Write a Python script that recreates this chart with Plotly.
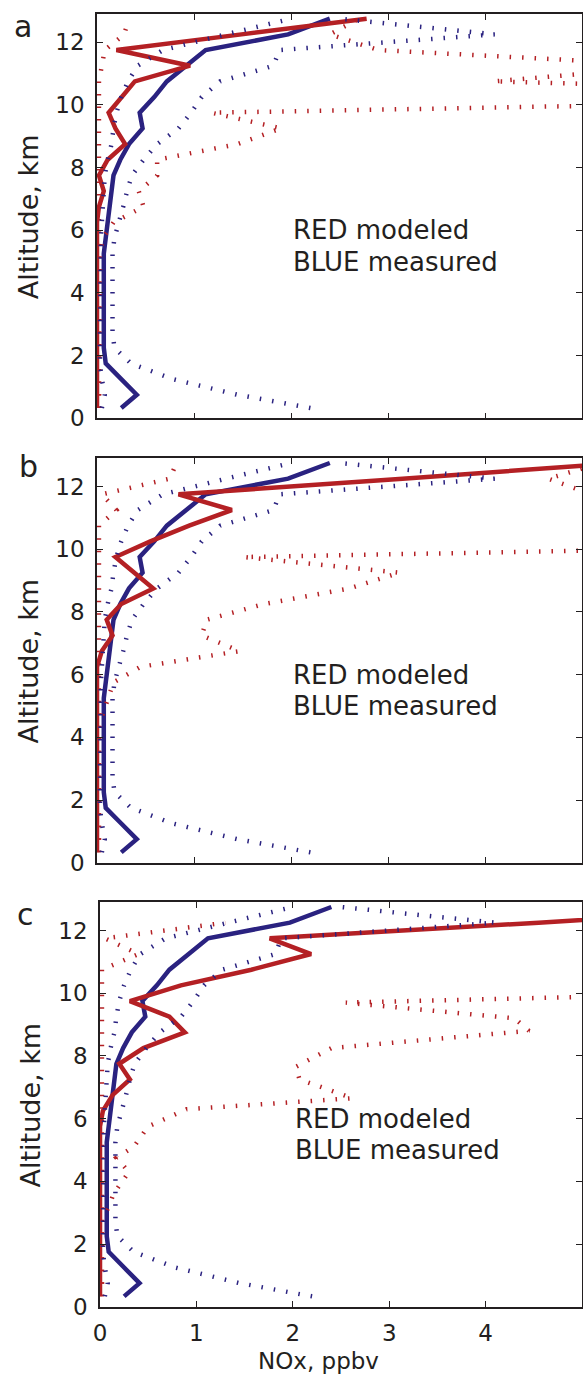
import plotly.graph_objects as go

# ---------------- data (NOx, ppbv vs altitude, km) ----------------
ALT = [0.33, 0.75, 1.25, 1.75, 2.25, 2.75, 3.25, 3.75, 4.25, 4.75, 5.25, 5.75, 6.25,
       6.75, 7.25, 7.75, 8.25, 8.75, 9.25, 9.75, 10.25, 10.75, 11.25, 11.75, 12.25, 12.75]

# measured (same in all panels)
blue_mean = [0.25, 0.41, 0.25, 0.09, 0.07, 0.07, 0.07, 0.07, 0.07, 0.07, 0.07, 0.09, 0.11,
             0.13, 0.15, 0.17, 0.24, 0.33, 0.47, 0.44, 0.59, 0.72, 0.92, 1.12, 1.97, 2.40]
blue_lo = [0.05, 0.08, 0.05, 0.03, 0.03, 0.03, 0.03, 0.03, 0.03, 0.03, 0.03, 0.04, 0.05,
           0.06, 0.07, 0.08, 0.11, 0.15, 0.17, 0.20, 0.25, 0.32, 0.42, 0.68, 1.33, 2.00]
blue_hi = [2.20, 1.45, 0.78, 0.35, 0.18, 0.16, 0.16, 0.16, 0.16, 0.16, 0.16, 0.18, 0.23,
           0.27, 0.31, 0.36, 0.48, 0.62, 0.84, 0.97, 1.08, 1.27, 1.82, 1.88, 4.10, 2.50]

# modeled, panel a
red_mean_a = [0.0, 0.0, 0.0, 0.0, 0.0, 0.0, 0.0, 0.0, 0.0, 0.0, 0.0, 0.0, 0.0,
              0.02, 0.07, 0.02, 0.11, 0.29, 0.19, 0.12, 0.25, 0.39, 0.96, 0.20, 1.49, 2.78]
red_lo_a = [0.02, 0.02, 0.02, 0.02, 0.02, 0.02, 0.02, 0.02, 0.02, 0.02, 0.02, 0.02, 0.02,
            0.02, 0.02, 0.02, 0.02, 0.02, 0.02, 0.02, 0.02, 0.02, 0.05, 0.08, 0.28, 0.33]
red_hi_a = [0.02, 0.02, 0.02, 0.02, 0.02, 0.02, 0.02, 0.02, 0.02, 0.02, 0.03, 0.06, 0.17,
            0.48, 0.43, 0.62, 0.62, 1.45, 1.90, 1.18, 10.0, 4.09, 6.00, 2.90, 2.40, 2.70]

# modeled, panel b
red_mean_b = [0.0, 0.0, 0.0, 0.0, 0.0, 0.0, 0.0, 0.0, 0.0, 0.0, 0.0, 0.0, 0.0,
              0.05, 0.16, 0.10, 0.25, 0.58, 0.39, 0.19, 0.55, 0.95, 1.39, 0.84, 3.15, 5.40]
red_lo_b = [0.02, 0.02, 0.02, 0.02, 0.02, 0.02, 0.02, 0.02, 0.02, 0.02, 0.02, 0.02, 0.02,
            0.02, 0.02, 0.02, 0.02, 0.02, 0.02, 0.02, 0.02, 0.02, 0.20, 0.05, 0.75, 0.82]
red_hi_b = [0.02, 0.02, 0.02, 0.02, 0.02, 0.02, 0.02, 0.02, 0.02, 0.06, 0.12, 0.17, 0.45,
            1.47, 1.08, 1.13, 1.72, 2.60, 3.12, 1.51, 10.2, 9.0, 8.0, 5.10, 4.65, 5.20]

# modeled, panel c
red_mean_c = [0.0, 0.0, 0.0, 0.0, 0.0, 0.0, 0.0, 0.0, 0.0, 0.0, 0.0, 0.0, 0.03,
              0.13, 0.31, 0.20, 0.45, 0.88, 0.72, 0.31, 0.84, 1.57, 2.19, 1.76, 4.55, 7.30]
red_lo_c = [0.02, 0.02, 0.02, 0.02, 0.02, 0.02, 0.02, 0.02, 0.02, 0.02, 0.02, 0.02, 0.02,
            0.02, 0.02, 0.02, 0.02, 0.02, 0.02, 0.02, 0.02, 0.02, 0.40, 0.05, 1.30, None]
alt_hi_c = [0.33, 2.75, 3.25, 3.6, 4.3, 4.75, 5.1, 5.75, 6.3, 6.65, 7.25, 7.65, 8.25,
            8.8, 9.2, 9.7, 10.25]
red_hi_c = [0.02, 0.02, 0.10, 0.14, 0.30, 0.17, 0.35, 0.50, 0.90, 2.62, 2.07, 2.03, 2.40,
            4.45, 4.30, 2.55, 10.0]

panel_letters = ["a", "b", "c"]
x_ticks = [0, 1, 2, 3, 4]
y_ticks = [0, 2, 4, 6, 8, 10, 12]
note_lines = ["RED modeled", "BLUE measured"]

# ---------------- style ----------------
W, H = 583, 1376
BLUE = "rgb(42,34,128)"
RED = "rgb(180,32,36)"
INK = "#231f20"
FONT = "DejaVu Sans"
DOT = "1.5px,11px"


def fx(p):
    return p / W


def fy(p):
    return 1 - p / H


# panel pixel boxes: left, right, top, bottom
boxes = [(97, 582, 14, 418.3), (97, 582, 458.3, 862.7), (100, 582, 902.3, 1306.7)]

panels = [
    (red_mean_a, red_lo_a, red_hi_a, ALT),
    (red_mean_b, red_lo_b, red_hi_b, ALT),
    (red_mean_c, red_lo_c, red_hi_c, alt_hi_c),
]

fig = go.Figure()
layout = dict(
    width=W, height=H, margin=dict(l=0, r=0, t=0, b=0, pad=0),
    paper_bgcolor="white", plot_bgcolor="white", showlegend=False,
    font=dict(family=FONT, color=INK),
)
annotations = []

for i, (rm, rlo, rhi, ahi) in enumerate(panels):
    sfx = "" if i == 0 else str(i + 1)
    xa, ya = "x" + sfx, "y" + sfx
    common = dict(xaxis=xa, yaxis=ya, mode="lines", hoverinfo="skip", showlegend=False)
    fig.add_trace(go.Scatter(x=blue_mean, y=ALT, line=dict(color=BLUE, width=4.5), **common))
    fig.add_trace(go.Scatter(x=rm, y=ALT, line=dict(color=RED, width=4.5), **common))
    fig.add_trace(go.Scatter(x=rlo, y=ALT, line=dict(color=RED, width=4.5, dash=DOT), **common))
    fig.add_trace(go.Scatter(x=rhi, y=ahi, line=dict(color=RED, width=4.5, dash=DOT), **common))
    fig.add_trace(go.Scatter(x=blue_lo, y=ALT, line=dict(color=BLUE, width=4.5, dash=DOT), **common))
    fig.add_trace(go.Scatter(x=blue_hi, y=ALT, line=dict(color=BLUE, width=4.5, dash=DOT), **common))

    l, r, t, b = boxes[i]
    axcommon = dict(showline=True, linecolor=INK, linewidth=1.5, mirror="ticks",
                    ticks="inside", ticklen=6, tickwidth=1.2, tickcolor=INK,
                    showgrid=False, zeroline=False, automargin=False, fixedrange=True)
    layout["xaxis" + sfx] = dict(
        domain=[fx(l), fx(r)], range=[0, 5], anchor=ya, tickvals=x_ticks,
        ticktext=[str(v) for v in x_ticks], showticklabels=(i == 2),
        tickfont=dict(size=23, family=FONT, color=INK), ticklabelstandoff=5, **axcommon)
    layout["yaxis" + sfx] = dict(
        domain=[fy(b), fy(t)], range=[0, 12.9], anchor=xa, tickvals=y_ticks,
        ticktext=[str(v) for v in y_ticks],
        tickfont=dict(size=23, family=FONT, color=INK), ticklabelstandoff=6, **axcommon)

    # notes
    for k, txt in enumerate(note_lines):
        annotations.append(dict(x=2.0, y=6.0 - k, xref=xa, yref=ya, text=txt,
                                showarrow=False, xanchor="left", yanchor="middle",
                                font=dict(size=26, family=FONT, color=INK)))
    # y-axis title
    annotations.append(dict(x=fx(28 if i < 2 else 30), y=fy((t + b) / 2 + 1),
                            xref="paper", yref="paper", text="Altitude, km", textangle=-90,
                            showarrow=False, xanchor="center", yanchor="middle",
                            font=dict(size=27, family=FONT, color=INK)))

# panel letters
for letter, (px, py) in zip(panel_letters, [(12, 26.5), (17, 466.5), (15, 914.5)]):
    annotations.append(dict(x=fx(px), y=fy(py), xref="paper", yref="paper", text=letter,
                            showarrow=False, xanchor="left", yanchor="middle",
                            font=dict(size=30, family=FONT, color=INK)))

# x-axis title
annotations.append(dict(x=fx(318.5), y=fy(1361), xref="paper", yref="paper", text="NOx, ppbv",
                        showarrow=False, xanchor="center", yanchor="middle",
                        font=dict(size=23, family=FONT, color=INK)))

layout["annotations"] = annotations
fig.update_layout(**layout)
fig.write_html("out.html", config={"displayModeBar": False},
               post_script="document.body.style.margin='0px';")
